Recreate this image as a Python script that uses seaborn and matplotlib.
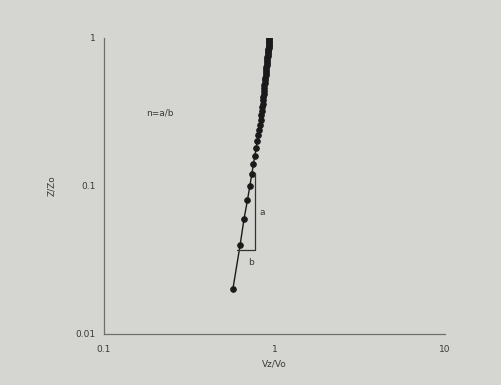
import matplotlib
matplotlib.use("Agg")
import matplotlib.pyplot as plt
import seaborn as sns
import pandas as pd
from matplotlib.ticker import FixedLocator, NullLocator, FixedFormatter

z_ratio = [0.02, 0.04, 0.06, 0.08, 0.10, 0.12, 0.14, 0.16, 0.18, 0.20,
           0.22, 0.24, 0.26, 0.28, 0.30, 0.32, 0.34, 0.36, 0.38, 0.40,
           0.42, 0.44, 0.46, 0.48, 0.50, 0.52, 0.54, 0.56, 0.58, 0.60,
           0.62, 0.64, 0.66, 0.68, 0.70, 0.72, 0.74, 0.76, 0.78, 0.80,
           0.82, 0.84, 0.86, 0.88, 0.90, 0.92, 0.94, 0.96, 0.98, 1.00]
v_ratio = [0.569, 0.628, 0.662, 0.693, 0.716, 0.735, 0.751, 0.766, 0.780, 0.791,
           0.802, 0.812, 0.822, 0.830, 0.836, 0.840, 0.845, 0.850, 0.854, 0.858,
           0.862, 0.865, 0.869, 0.872, 0.876, 0.879, 0.882, 0.885, 0.888, 0.890,
           0.893, 0.896, 0.898, 0.901, 0.903, 0.906, 0.908, 0.910, 0.912, 0.914,
           0.917, 0.919, 0.921, 0.923, 0.924, 0.926, 0.928, 0.930, 0.932, 0.933]

tri_x = [0.60, 0.77, 0.77]
tri_y = [0.037, 0.037, 0.122]

x_ticks = [0.1, 1, 10]
x_tick_labels = ["0.1", "1", "10"]
y_ticks = [0.01, 0.1, 1]
y_tick_labels = ["0.01", "0.1", "1"]

bg = "#d5d6d1"
sns.set_theme(style="white")
plt.rcParams['font.family'] = ['DejaVu Sans']

fig = plt.figure(figsize=(5.01, 3.85), dpi=100, facecolor=bg)
ax = fig.add_axes([0.2076, 0.1325, 0.681, 0.7688])
ax.set_facecolor(bg)

df = pd.DataFrame({"v": v_ratio, "z": z_ratio})
sns.lineplot(data=df, x="v", y="z", ax=ax, color="#1a1a1a", linewidth=1.0,
             marker="o", markersize=4, markeredgecolor="#1a1a1a", sort=False)
ax.plot(tri_x, tri_y, color="#333333", linewidth=0.9)

ax.set_xscale("log")
ax.set_yscale("log")
ax.set_xlim(0.1, 10)
ax.set_ylim(0.01, 1)
ax.xaxis.set_major_locator(FixedLocator(x_ticks))
ax.xaxis.set_major_formatter(FixedFormatter(x_tick_labels))
ax.xaxis.set_minor_locator(NullLocator())
ax.yaxis.set_major_locator(FixedLocator(y_ticks))
ax.yaxis.set_major_formatter(FixedFormatter(y_tick_labels))
ax.yaxis.set_minor_locator(NullLocator())

for s in ["top", "right"]:
    ax.spines[s].set_visible(False)
for s in ["left", "bottom"]:
    ax.spines[s].set_color("#6e6e6a")
    ax.spines[s].set_linewidth(0.9)

ax.tick_params(axis="both", which="major", length=2, width=0.6, color="#6e6e6a",
               labelsize=6.5, labelcolor="#3a3a38", pad=4, direction="out")
ax.tick_params(axis="x", pad=6)

ax.set_xlabel("Vz/Vo", fontsize=6.5, color="#3a3a38", labelpad=4)
ax.set_ylabel("Z/Zo", fontsize=6.5, color="#3a3a38", labelpad=14)

ax.text(0.213, 0.31, "n=a/b", fontsize=6.5, color="#3a3a38", ha="center", va="center")
ax.text(0.845, 0.0667, "a", fontsize=6.5, color="#3a3a38", ha="center", va="center")
ax.text(0.73, 0.0303, "b", fontsize=6.5, color="#3a3a38", ha="center", va="center")

fig.savefig("out.png", dpi=100, facecolor=bg)
